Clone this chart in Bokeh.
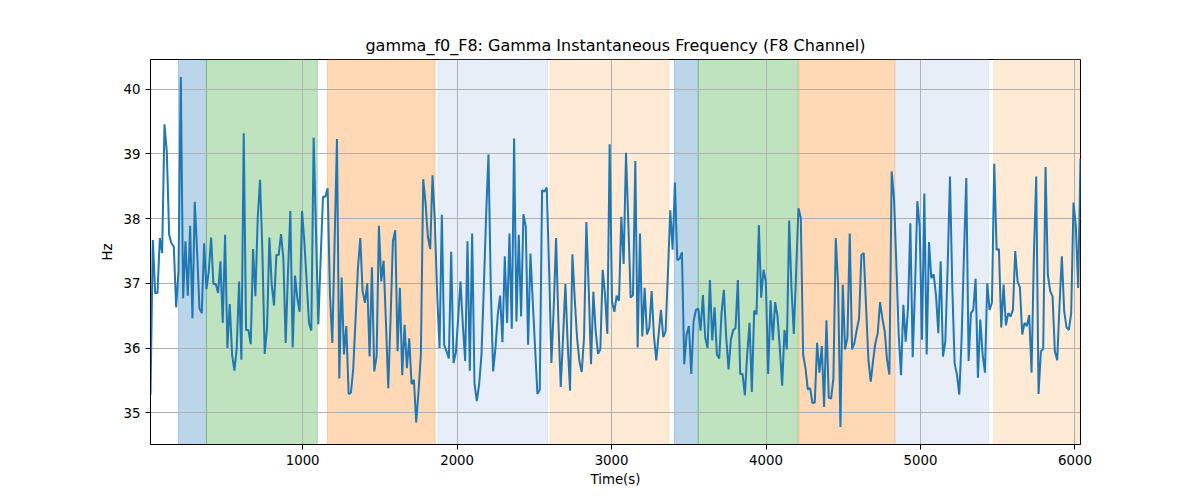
from bokeh.plotting import figure
from bokeh.models import Range1d, FixedTicker, BoxAnnotation
from bokeh.embed import file_html
from bokeh.resources import INLINE

# ---- data ----
time_start = 15.0
time_step = 15.09

gamma_f0 = [
    35.28, 37.67, 36.85, 36.85, 37.70, 37.47, 39.46, 39.03, 37.75, 37.62,
    37.57, 36.63, 37.18, 40.19, 36.77, 37.65, 36.81, 37.89, 36.46, 38.26,
    37.49, 36.61, 36.54, 37.62, 36.91, 37.18, 37.71, 36.99, 36.99, 36.85,
    37.34, 36.39, 37.75, 36.00, 36.68, 35.90, 35.65, 36.00, 37.03, 35.82,
    39.32, 36.28, 36.28, 36.06, 37.53, 36.80, 38.01, 38.60, 37.49, 35.91,
    36.31, 37.71, 36.98, 36.66, 37.44, 37.44, 37.76, 37.39, 36.08, 37.18,
    38.12, 36.01, 37.12, 36.77, 36.56, 38.12, 37.65, 37.03, 36.39, 36.27,
    39.25, 37.80, 36.37, 37.39, 38.34, 38.34, 38.47, 36.82, 36.08, 37.65,
    39.23, 35.53, 37.09, 35.90, 36.34, 35.29, 35.31, 35.69, 36.46, 37.24,
    37.70, 36.88, 36.70, 37.00, 35.87, 37.25, 35.64, 35.87, 37.89, 37.03,
    37.35, 36.41, 35.38, 36.46, 37.65, 37.82, 35.95, 36.93, 35.58, 36.36,
    35.69, 36.15, 35.44, 35.51, 34.85, 35.33, 35.90, 38.61, 38.24, 37.72,
    37.53, 38.67, 37.95, 36.82, 36.00, 38.06, 36.05, 35.95, 35.84, 37.49,
    35.77, 35.93, 36.46, 37.03, 36.36, 35.80, 37.65, 35.65, 37.77,
    35.46, 35.18, 35.44, 35.90, 36.93, 38.06, 38.99, 36.93, 35.64, 36.00,
    36.52, 36.81, 36.09, 37.42, 36.39, 37.77, 36.30, 39.24, 36.41, 37.75,
    36.49, 38.07, 37.88, 36.05, 37.46, 36.72, 36.00, 35.29, 35.36, 38.44,
    38.42, 38.48, 37.24, 35.77, 36.62, 37.70, 36.41, 35.40, 36.16, 36.99,
    36.05, 35.34, 37.45, 36.77, 36.16, 35.80, 35.63, 36.16, 37.95, 36.93,
    35.75, 36.87, 36.26, 35.91, 35.98, 37.21, 36.82, 36.22, 39.15, 36.72,
    36.56, 36.81, 36.73, 38.03, 37.30, 39.02, 37.95, 36.78, 36.82,
    38.89, 36.01, 37.77, 36.18, 36.93, 36.21, 36.31, 36.88, 36.18, 35.81,
    36.21, 36.59, 36.17, 36.26, 37.18, 38.13, 37.52, 38.56, 37.36, 37.38,
    37.48, 35.75, 36.21, 36.34, 35.60, 36.41, 36.59, 36.61, 36.27, 36.82,
    36.16, 36.00, 37.05, 36.12, 36.63, 35.90, 35.84, 36.54, 36.90, 36.16,
    35.67, 36.13, 36.28, 36.31, 37.05, 35.60, 35.60, 35.27, 35.90, 36.39,
    35.32, 36.58, 36.52, 37.90, 36.78, 37.21, 37.03, 35.60, 36.74, 36.12,
    36.71, 36.49, 36.00, 35.42, 36.28, 35.98, 37.97, 36.93, 36.22,
    37.18, 38.16, 38.01, 35.90, 35.69, 35.36, 35.38, 35.15, 35.16, 36.08,
    35.62, 36.03, 35.09, 36.43, 35.23, 35.22, 35.54, 37.70, 36.98, 34.78,
    36.98, 35.98, 36.16, 37.77, 35.98, 36.08, 36.28, 36.46, 37.44, 37.47,
    36.64, 35.82, 35.48, 35.80, 36.08, 36.23, 36.71, 36.46, 36.26, 35.82,
    35.59, 38.73, 38.31, 37.29, 36.21, 35.58, 36.67, 36.10, 36.62, 37.93,
    35.86, 36.93, 38.27, 37.88, 36.13, 38.39, 35.90, 37.64, 37.08, 37.14,
    36.82, 36.23, 37.34, 35.87, 36.10, 37.24, 38.65, 36.93, 35.76,
    35.59, 35.28, 36.16, 37.44, 38.63, 35.80, 36.54, 36.59, 37.07, 35.54,
    36.44, 35.90, 35.62, 37.00, 36.59, 36.70, 38.85, 37.52, 37.53, 36.32,
    36.98, 36.35, 36.54, 36.49, 36.59, 37.50, 37.03, 36.94, 36.21, 36.39,
    36.34, 36.51, 35.62, 37.44, 38.65, 35.29, 35.95, 35.99, 38.80, 37.13,
    36.88, 36.80, 35.95, 35.81, 36.67, 37.42, 36.57, 36.32, 36.28, 36.54,
    38.25, 37.88, 36.93, 38.93,
]
time_s = [time_start + i * time_step for i in range(len(gamma_f0))]

span_start = [196, 377, 1160, 1876, 2602, 3406, 3561, 4213, 4838, 5474]
span_end = [377, 1095, 1858, 2585, 3372, 3561, 4208, 4834, 5442, 6030]
span_color = ["#1f77b4", "#2ca02c", "#ff7f0e", "#aec7e8", "#ffbb78",
              "#1f77b4", "#2ca02c", "#ff7f0e", "#aec7e8", "#ffbb78"]

x_ticks = [1000, 2000, 3000, 4000, 5000, 6000]
y_ticks = [35, 36, 37, 38, 39, 40]

title_text = "gamma_f0_F8: Gamma Instantaneous Frequency (F8 Channel)"
x_label = "Time(s)"
y_label = "Hz"

# ---- figure ----
ymin, ymax = min(gamma_f0), max(gamma_f0)
ypad = 0.05 * (ymax - ymin)

FONT = "DejaVu Sans"

p = figure(
    frame_width=930, frame_height=385,
    min_border_left=150, min_border_right=104,
    min_border_top=59, min_border_bottom=0,
    x_range=Range1d(time_s[0], time_s[-1]),
    y_range=Range1d(ymin - ypad, ymax + ypad),
    output_backend="svg", toolbar_location=None,
    title=title_text,
)
p.background_fill_color = "white"
p.border_fill_color = "white"
p.outline_line_color = "black"
p.outline_line_width = 1
p.outline_line_alpha = 1

p.title.text_font = FONT
p.title.text_font_size = "16px"
p.title.text_font_style = "normal"
p.title.text_color = "black"
p.title.align = "center"

for s, e, c in zip(span_start, span_end, span_color):
    p.add_layout(BoxAnnotation(left=s, right=e, fill_color=c, fill_alpha=0.3,
                               line_color=c, line_alpha=0.3, line_width=1,
                               level="image"))

p.line(time_s, gamma_f0, line_color="#1f77b4", line_width=2)

p.xaxis.ticker = FixedTicker(ticks=x_ticks)
p.yaxis.ticker = FixedTicker(ticks=y_ticks)
p.xaxis.axis_label = x_label
p.yaxis.axis_label = y_label

for ax in (p.xaxis, p.yaxis):
    ax.axis_line_color = "black"
    ax.axis_line_width = 1
    ax.major_tick_line_color = "black"
    ax.major_tick_out = 5
    ax.major_tick_in = 0
    ax.minor_tick_out = 0
    ax.minor_tick_in = 0
    ax.major_label_text_font = FONT
    ax.major_label_text_font_size = "13.3px"
    ax.major_label_text_color = "black"
    ax.major_label_standoff = 5
    ax.axis_label_text_font = FONT
    ax.axis_label_text_font_size = "13.3px"
    ax.axis_label_text_font_style = "normal"
    ax.axis_label_text_color = "black"
    ax.axis_label_standoff = 6
p.xaxis.axis_label_standoff = 4

p.grid.grid_line_color = "#b0b0b0"
p.grid.grid_line_width = 1
p.grid.grid_line_alpha = 1

open("out.html", "w").write(file_html(p, INLINE))
